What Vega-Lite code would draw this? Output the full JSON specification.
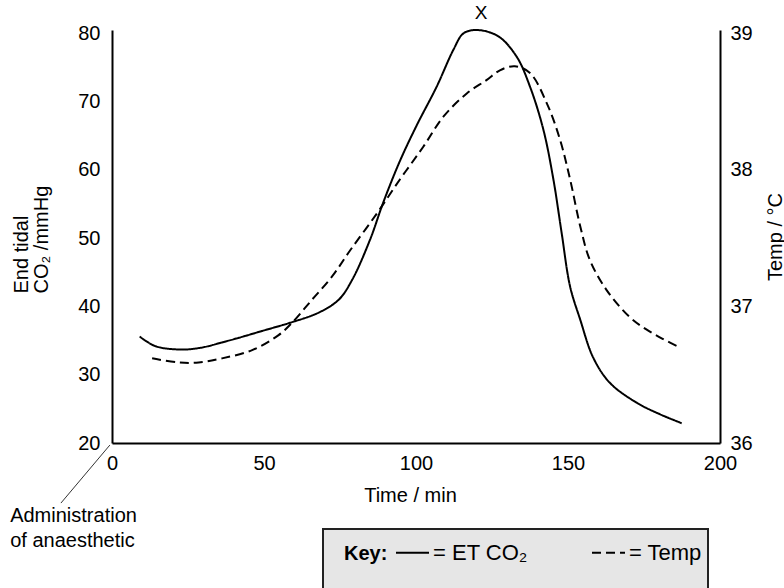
{
  "$schema": "https://vega.github.io/schema/vega-lite/v6.json",
  "width": 608,
  "height": 413,
  "autosize": {"type": "none"},
  "padding": {"left": 112, "top": 30, "right": 64, "bottom": 145},
  "background": "white",
  "config": {
    "view": {"stroke": null},
    "font": "Liberation Sans",
    "axis": {
      "domainColor": "#000",
      "domainWidth": 2,
      "ticks": false,
      "grid": false,
      "labelFont": "Liberation Sans",
      "labelFontSize": 20,
      "labelColor": "#000",
      "titleFont": "Liberation Sans",
      "titleFontSize": 20,
      "titleFontWeight": "normal",
      "titleColor": "#000",
      "labelFlush": false,
      "labelOverlap": false
    },
    "legend": {"strokeWidth": 2},
    "text": {"font": "Liberation Sans", "color": "#000"}
  },
  "datasets": {
    "co2": [
      {"series": "ET CO₂", "time": 9.1, "co2": 35.6},
      {"series": "ET CO₂", "time": 14.2, "co2": 34.2},
      {"series": "ET CO₂", "time": 21.9, "co2": 33.7},
      {"series": "ET CO₂", "time": 28.5, "co2": 33.9},
      {"series": "ET CO₂", "time": 38.4, "co2": 35.0},
      {"series": "ET CO₂", "time": 49.3, "co2": 36.4},
      {"series": "ET CO₂", "time": 59.2, "co2": 37.7},
      {"series": "ET CO₂", "time": 68.0, "co2": 39.1},
      {"series": "ET CO₂", "time": 74.6, "co2": 41.0},
      {"series": "ET CO₂", "time": 79.0, "co2": 43.9},
      {"series": "ET CO₂", "time": 84.9, "co2": 49.8},
      {"series": "ET CO₂", "time": 89.2, "co2": 55.2},
      {"series": "ET CO₂", "time": 94.7, "co2": 61.3},
      {"series": "ET CO₂", "time": 100.2, "co2": 66.5},
      {"series": "ET CO₂", "time": 106.8, "co2": 72.2},
      {"series": "ET CO₂", "time": 112.3, "co2": 77.6},
      {"series": "ET CO₂", "time": 115.6, "co2": 80.0},
      {"series": "ET CO₂", "time": 120.0, "co2": 80.5},
      {"series": "ET CO₂", "time": 127.0, "co2": 79.6},
      {"series": "ET CO₂", "time": 133.1, "co2": 76.6},
      {"series": "ET CO₂", "time": 137.5, "co2": 72.2},
      {"series": "ET CO₂", "time": 141.9, "co2": 65.9},
      {"series": "ET CO₂", "time": 145.2, "co2": 58.6},
      {"series": "ET CO₂", "time": 147.9, "co2": 50.8},
      {"series": "ET CO₂", "time": 150.7, "co2": 42.9},
      {"series": "ET CO₂", "time": 154.0, "co2": 38.1},
      {"series": "ET CO₂", "time": 158.3, "co2": 32.5},
      {"series": "ET CO₂", "time": 163.8, "co2": 28.8},
      {"series": "ET CO₂", "time": 172.6, "co2": 25.9},
      {"series": "ET CO₂", "time": 180.3, "co2": 24.2},
      {"series": "ET CO₂", "time": 187.4, "co2": 22.9}
    ],
    "temp": [
      {"series": "Temp", "time": 13.2, "temp": 36.62},
      {"series": "Temp", "time": 21.9, "temp": 36.59},
      {"series": "Temp", "time": 28.5, "temp": 36.59},
      {"series": "Temp", "time": 36.2, "temp": 36.62},
      {"series": "Temp", "time": 46.1, "temp": 36.68},
      {"series": "Temp", "time": 54.8, "temp": 36.79},
      {"series": "Temp", "time": 59.2, "temp": 36.88},
      {"series": "Temp", "time": 65.8, "temp": 37.05},
      {"series": "Temp", "time": 72.4, "temp": 37.22},
      {"series": "Temp", "time": 78.3, "temp": 37.41},
      {"series": "Temp", "time": 87.1, "temp": 37.68},
      {"series": "Temp", "time": 94.7, "temp": 37.93},
      {"series": "Temp", "time": 102.4, "temp": 38.17},
      {"series": "Temp", "time": 109.0, "temp": 38.39},
      {"series": "Temp", "time": 116.7, "temp": 38.56},
      {"series": "Temp", "time": 123.3, "temp": 38.66},
      {"series": "Temp", "time": 127.6, "temp": 38.73},
      {"series": "Temp", "time": 132.5, "temp": 38.76},
      {"series": "Temp", "time": 137.5, "temp": 38.71},
      {"series": "Temp", "time": 143.0, "temp": 38.49},
      {"series": "Temp", "time": 147.4, "temp": 38.22},
      {"series": "Temp", "time": 150.7, "temp": 37.93},
      {"series": "Temp", "time": 154.0, "temp": 37.59},
      {"series": "Temp", "time": 157.2, "temp": 37.34},
      {"series": "Temp", "time": 162.7, "temp": 37.12},
      {"series": "Temp", "time": 170.4, "temp": 36.92},
      {"series": "Temp", "time": 175.9, "temp": 36.83},
      {"series": "Temp", "time": 181.4, "temp": 36.76},
      {"series": "Temp", "time": 186.8, "temp": 36.70}
    ],
    "peak": [{"time": 121.4, "co2": 83.0, "label": "X"}],
    "note": [
      {"time": -33.5, "co2": 9.3, "label": "Administration"},
      {"time": -33.5, "co2": 5.6, "label": "of anaesthetic"}
    ],
    "leader": [{"time": -0.7, "co2": 19.7, "time2": -16.8, "co2_2": 11.2}]
  },
  "layer": [
    {
      "layer": [
        {
          "data": {"name": "co2"},
          "mark": {"type": "line", "interpolate": "catmull-rom", "strokeWidth": 2, "color": "#000"},
          "encoding": {
            "x": {
              "field": "time", "type": "quantitative",
              "scale": {"domain": [0, 200], "nice": false},
              "axis": {"values": [0, 50, 100, 150, 200], "title": "Time / min", "labelPadding": 10,
                       "titleX": 298, "titleY": 52, "titleBaseline": "middle", "titleAlign": "center"}
            },
            "y": {
              "field": "co2", "type": "quantitative",
              "scale": {"domain": [20, 80.5], "nice": false, "zero": false},
              "axis": {"values": [20, 30, 40, 50, 60, 70, 80], "title": ["End tidal", "CO₂ /mmHg"],
                       "labelPadding": 12, "titleAngle": -90, "titleAlign": "left", "titleBaseline": "top",
                       "titleX": -101, "titleY": 263, "titleLineHeight": 20}
            },
            "strokeDash": {
              "field": "series", "type": "nominal",
              "scale": {"domain": ["ET CO₂", "Temp"], "range": [[1, 0], [9, 5]]},
              "legend": {
                "title": ["Key:", " "], "orient": "none", "legendX": 211, "legendY": 499,
                "direction": "horizontal", "columns": 2, "titleOrient": "left", "titleLineHeight": 27,
                "titleFontSize": 20, "titleFontWeight": "bold", "titleColor": "#000", "titlePadding": 22,
                "labelFontSize": 22, "labelColor": "#000",
                "labelExpr": "'= ' + datum.label",
                "labelOffset": 3,
                "symbolType": "stroke", "symbolSize": 1089, "symbolStrokeWidth": 2, "symbolStrokeColor": "#000",
                "columnPadding": 60, "padding": 6,
                "fillColor": "#e6e6e6", "strokeColor": "#222",
                "encode": {
                  "title": {"update": {"dx": {"value": 15}, "dy": {"value": 18}}},
                  "symbols": {
                    "update": {
                      "strokeDash": [
                        {"test": "datum.value === 'Temp'", "value": [8, 4.5]},
                        {"value": [1, 0]}
                      ]
                    }
                  }
                }
              }
            }
          }
        },
        {
          "data": {"name": "peak"},
          "mark": {"type": "text", "fontSize": 19, "align": "center", "baseline": "middle", "color": "#000"},
          "encoding": {
            "x": {"field": "time", "type": "quantitative"},
            "y": {"field": "co2", "type": "quantitative"},
            "text": {"field": "label"}
          }
        },
        {
          "data": {"name": "note"},
          "mark": {"type": "text", "fontSize": 20, "align": "left", "baseline": "middle", "color": "#000"},
          "encoding": {
            "x": {"field": "time", "type": "quantitative"},
            "y": {"field": "co2", "type": "quantitative"},
            "text": {"field": "label"}
          }
        },
        {
          "data": {"name": "leader"},
          "mark": {"type": "rule", "color": "#333", "strokeWidth": 1},
          "encoding": {
            "x": {"field": "time", "type": "quantitative"},
            "y": {"field": "co2", "type": "quantitative"},
            "x2": {"field": "time2"},
            "y2": {"field": "co2_2"}
          }
        }
      ]
    },
    {
      "data": {"name": "temp"},
      "mark": {"type": "line", "interpolate": "catmull-rom", "strokeWidth": 2, "color": "#000"},
      "encoding": {
        "x": {"field": "time", "type": "quantitative"},
        "y": {
          "field": "temp", "type": "quantitative",
          "scale": {"domain": [36, 39.025], "nice": false, "zero": false},
          "axis": {"orient": "right", "values": [36, 37, 38, 39], "title": "Temp / °C", "labelPadding": 10,
                   "titleAngle": -90, "titleX": 55, "titleY": 206.5, "titleAlign": "center", "titleBaseline": "middle"}
        },
        "strokeDash": {"field": "series", "type": "nominal"}
      }
    }
  ],
  "resolve": {"scale": {"y": "independent"}}
}
